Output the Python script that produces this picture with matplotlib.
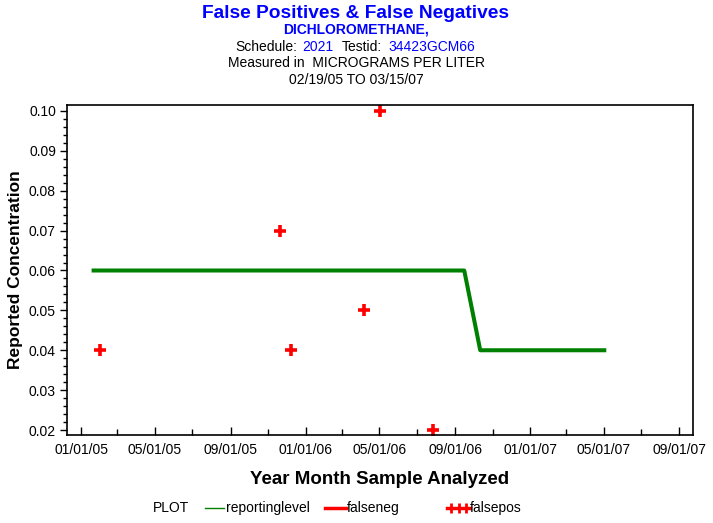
import matplotlib
matplotlib.use("Agg")
import matplotlib.pyplot as plt
import matplotlib.dates as mdates
from matplotlib.lines import Line2D
import pandas as pd

plt.rc("font", family=["Liberation Sans", "DejaVu Sans"], size=10)

# reporting level line
rl_dates = ["2005-01-18", "2006-09-16", "2006-10-12", "2007-05-05"]
rl_values = [0.06, 0.06, 0.04, 0.04]

# false positives
fp_dates = ["2005-01-31", "2005-11-20", "2005-12-08", "2006-04-06", "2006-05-02", "2006-07-28"]
fp_values = [0.04, 0.07, 0.04, 0.05, 0.10, 0.02]

x_ticks = ["2005-01-01", "2005-05-01", "2005-09-01", "2006-01-01", "2006-05-01",
           "2006-09-01", "2007-01-01", "2007-05-01", "2007-09-01"]
y_ticks = [0.02, 0.03, 0.04, 0.05, 0.06, 0.07, 0.08, 0.09, 0.10]

W, H = 713, 523
fig = plt.figure(figsize=(W / 100, H / 100), dpi=100)
ax = fig.add_axes([67 / W, 1 - 435 / H, (693 - 67) / W, (435 - 105) / H])

green = "#008000"
red = "#ff0000"
blue = "#0000ff"

ax.plot(pd.to_datetime(rl_dates), rl_values, color=green, lw=2.9, solid_capstyle="butt")
ax.plot(pd.to_datetime(fp_dates), fp_values, ls="none", marker="+", ms=9, mew=2.6, color=red)

ax.set_xlim(pd.Timestamp("2004-12-09"), pd.Timestamp("2007-09-23"))
ax.set_ylim(0.01875, 0.1015)
ax.set_yticks(y_ticks)
ax.set_yticklabels([f"{v:.2f}" for v in y_ticks])
ax.set_yticks([0.02 + 0.002 * i for i in range(41)], minor=True)
ax.set_xticks(pd.to_datetime(x_ticks))
ax.xaxis.set_major_formatter(mdates.DateFormatter("%m/%d/%y"))
ax.xaxis.set_minor_locator(mdates.MonthLocator(bymonth=[3, 7, 11]))

ax.tick_params(axis="x", which="major", direction="in", length=6, width=1, pad=6)
ax.tick_params(axis="x", which="minor", direction="in", length=4, width=1)
ax.tick_params(axis="y", which="major", direction="out", length=5, width=1, pad=3)
ax.tick_params(axis="y", which="minor", direction="out", length=3, width=1)
for s in ax.spines.values():
    s.set_linewidth(1.2)

ax.set_xlabel("Year Month Sample Analyzed", fontsize=13.5, fontweight="bold", labelpad=10)
ax.set_ylabel("Reported Concentration", fontsize=12.5, fontweight="bold", labelpad=4)

# titles
def ft(x, y, s, **kw):
    fig.text(x / W, 1 - y / H, s, va="center", **kw)

ft(W / 2 - 1, 13, "False Positives & False Negatives", ha="center", color=blue, fontsize=13.8, fontweight="bold")
ft(W / 2, 30, "DICHLOROMETHANE,", ha="center", color=blue, fontsize=10, fontweight="bold")
ft(235, 47, "Schedule:", ha="left", color="black")
ft(302, 47, "2021", ha="left", color=blue)
ft(342, 47, "Testid:", ha="left", color="black")
ft(388, 47, "34423GCM66", ha="left", color=blue)
ft(W / 2, 63, "Measured in  MICROGRAMS PER LITER", ha="center", color="black")
ft(W / 2, 80, "02/19/05 TO 03/15/07", ha="center", color="black")

# legend
ly = 508
ft(153, ly, "PLOT", ha="left")
fig.add_artist(Line2D([205 / W, 224 / W], [1 - ly / H] * 2, color=green, lw=1))
ft(226, ly, "reportinglevel", ha="left")
fig.add_artist(Line2D([325 / W, 346 / W], [1 - ly / H] * 2, color=red, lw=2.5))
ft(347, ly, "falseneg", ha="left")
fig.add_artist(Line2D([447 / W, 470 / W], [1 - ly / H] * 2, color=red, lw=2.5))
fig.add_artist(Line2D([451 / W, 458.5 / W, 466 / W], [1 - ly / H] * 3, ls="none",
                      marker="+", ms=7, mew=2, color=red))
ft(470, ly, "falsepos", ha="left")

fig.savefig("out.png", dpi=100)
